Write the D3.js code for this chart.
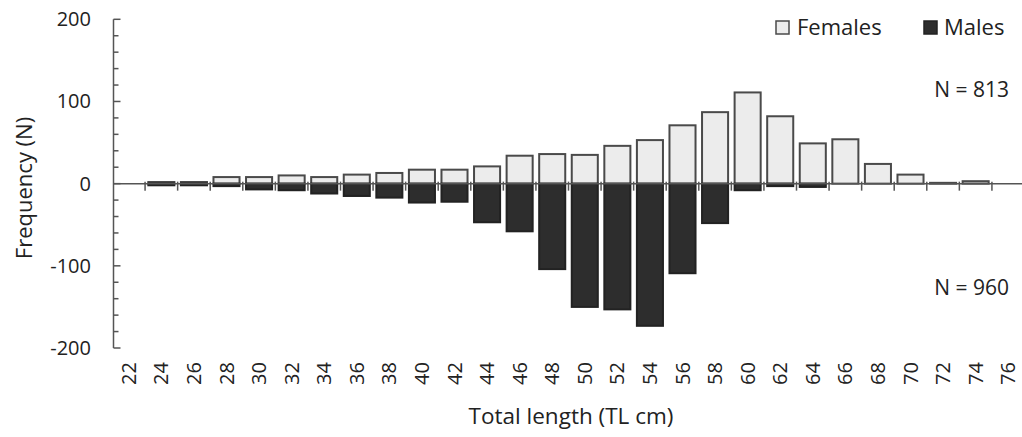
<!DOCTYPE html>
<html>
<head>
<meta charset="utf-8">
<script src="https://cdn.jsdelivr.net/npm/d3@7"></script>
<style>
  body { margin: 0; background: #fff; }
  svg text { font-family: "Open Sans", "Noto Sans", sans-serif; fill: #222; }
</style>
</head>
<body>
<svg id="chart" width="1022" height="437"></svg>
<script>
// length classes (TL cm)
var lengths = [22, 24, 26, 28, 30, 32, 34, 36, 38, 40, 42, 44, 46, 48,
               50, 52, 54, 56, 58, 60, 62, 64, 66, 68, 70, 72, 74, 76];
var females = [0, 2, 2, 8, 8, 10, 8, 11, 13, 17, 17, 21, 34, 36,
               35, 46, 53, 71, 87, 111, 82, 49, 54, 24, 11, 1, 3, 0];
var males = [0, 2, 2, 3, 7, 8, 12, 15, 17, 23, 22, 47, 58, 104,
             150, 153, 173, 109, 48, 8, 3, 4, 0, 0, 0, 0, 0, 0];
var yMajor = [-200, -100, 0, 100, 200];
var nFemales = 'N = 813', nMales = 'N = 960';

var svg = d3.select('#chart');
var W = 1022;

var x = d3.scaleBand()
  .domain(lengths)
  .range([112.5, 1024.5])
  .paddingInner(0.2)
  .paddingOuter(0.1);

var y = d3.scaleLinear()
  .domain([-200, 200])
  .range([348, 19.3]);

var lineCol = '#555';

// female bars (positive)
svg.append('g').selectAll('rect')
  .data(lengths.filter(function(d, i){ return females[i] > 0; }))
  .enter().append('rect')
  .attr('x', function(d){ return x(d); })
  .attr('width', x.bandwidth())
  .attr('y', function(d){ return y(females[lengths.indexOf(d)]); })
  .attr('height', function(d){ return y(0) - y(females[lengths.indexOf(d)]); })
  .attr('fill', '#ececec')
  .attr('stroke', '#4a4a4a')
  .attr('stroke-width', 2);

// male bars (negative)
svg.append('g').selectAll('rect')
  .data(lengths.filter(function(d, i){ return males[i] > 0; }))
  .enter().append('rect')
  .attr('x', function(d){ return x(d); })
  .attr('width', x.bandwidth())
  .attr('y', y(0))
  .attr('height', function(d){ return y(-males[lengths.indexOf(d)]) - y(0); })
  .attr('fill', '#2d2d2d')
  .attr('stroke', '#222')
  .attr('stroke-width', 2);

// y axis
var x0 = 113.5;
svg.append('line')
  .attr('x1', x0).attr('x2', x0)
  .attr('y1', y(200)).attr('y2', y(-200))
  .attr('stroke', lineCol).attr('stroke-width', 1.5);

var yMinor = d3.range(-200, 201, 20);
svg.append('g').selectAll('line')
  .data(yMinor)
  .enter().append('line')
  .attr('x1', x0).attr('x2', function(d){ return yMajor.indexOf(d) >= 0 ? x0 + 7 : x0 + 5; })
  .attr('y1', function(d){ return y(d); })
  .attr('y2', function(d){ return y(d); })
  .attr('stroke', lineCol).attr('stroke-width', 1.5);

svg.append('g').selectAll('text')
  .data(yMajor)
  .enter().append('text')
  .attr('x', 91)
  .attr('y', function(d){ return y(d); })
  .attr('dy', '0.35em')
  .attr('text-anchor', 'end')
  .style('font-size', '20px')
  .text(function(d){ return d; });

// x axis at zero
svg.append('line')
  .attr('x1', x0).attr('x2', W)
  .attr('y1', y(0)).attr('y2', y(0))
  .attr('stroke', lineCol).attr('stroke-width', 1.5);

var step = x.step();
var bounds = lengths.slice(1).map(function(d){ return x(d) - step * x.paddingInner() / 2; });
svg.append('g').selectAll('line')
  .data(bounds)
  .enter().append('line')
  .attr('x1', function(d){ return d; }).attr('x2', function(d){ return d; })
  .attr('y1', y(0) - 2).attr('y2', y(0) + 7)
  .attr('stroke', lineCol).attr('stroke-width', 1.5);

svg.append('g').selectAll('text')
  .data(lengths)
  .enter().append('text')
  .attr('transform', function(d){
    return 'translate(' + (x(d) + x.bandwidth() / 2) + ',362) rotate(-90)';
  })
  .attr('text-anchor', 'end')
  .attr('dy', '0.35em')
  .style('font-size', '20px')
  .text(function(d){ return d; });

// axis titles
svg.append('text')
  .attr('x', 571).attr('y', 424)
  .attr('text-anchor', 'middle')
  .style('font-size', '22.5px')
  .text('Total length (TL cm)');

svg.append('text')
  .attr('transform', 'translate(32,188) rotate(-90)')
  .attr('text-anchor', 'middle')
  .style('font-size', '22px')
  .text('Frequency (N)');

// legend
var legend = svg.append('g');
legend.append('rect')
  .attr('x', 776).attr('y', 21).attr('width', 13).attr('height', 13)
  .attr('fill', '#ececec').attr('stroke', '#4a4a4a').attr('stroke-width', 1.5);
legend.append('text')
  .attr('x', 797).attr('y', 35)
  .style('font-size', '22px')
  .text('Females');
legend.append('rect')
  .attr('x', 924).attr('y', 21).attr('width', 13).attr('height', 13)
  .attr('fill', '#2d2d2d').attr('stroke', '#222').attr('stroke-width', 1.5);
legend.append('text')
  .attr('x', 944).attr('y', 35)
  .style('font-size', '22px')
  .text('Males');

// sample sizes
svg.append('text')
  .attr('x', 1009).attr('y', 97)
  .attr('text-anchor', 'end')
  .style('font-size', '21px')
  .text(nFemales);
svg.append('text')
  .attr('x', 1009).attr('y', 295)
  .attr('text-anchor', 'end')
  .style('font-size', '21px')
  .text(nMales);
</script>
</body>
</html>
